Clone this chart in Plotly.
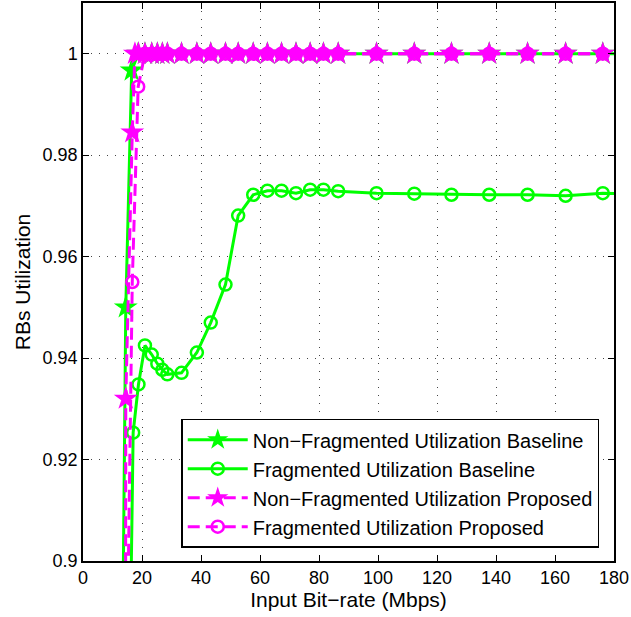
import plotly.graph_objects as go

# ---------------- data ----------------
x_base_nf = [13.0, 14.5, 16.5, 18.7, 21.0, 23.3, 25.2, 26.9, 28.6, 33.4, 38.6, 43.3, 48.3, 52.6,
             57.7, 62.5, 67.3, 72.2, 77.0, 81.5, 86.5, 99.5, 112.3, 124.9, 137.7, 150.7, 163.6, 176.2, 189.0]
y_base_nf = [0.856, 0.950, 0.9967] + [1.0] * 26

x_base_f = [15.2, 17.0, 18.8, 21.0, 23.3, 25.2, 26.9, 28.6, 33.4, 38.6, 43.3, 48.3, 52.6, 57.7,
            62.5, 67.3, 72.2, 77.0, 81.5, 86.5, 99.5, 112.3, 124.9, 137.7, 150.7, 163.6, 176.2, 189.0]
y_base_f = [0.850, 0.9253, 0.9348, 0.9425, 0.9407, 0.9389, 0.9377, 0.9368, 0.9371, 0.9411, 0.9470,
            0.9545, 0.9681, 0.9722, 0.9730, 0.9730, 0.9725, 0.9732, 0.9732, 0.9729, 0.9725, 0.9724,
            0.9722, 0.9722, 0.9722, 0.9720, 0.9725, 0.9724]

x_prop_nf = [14.3, 14.5, 16.7, 17.6, 18.8, 21.0, 23.3, 25.2, 26.9, 28.6, 33.4, 38.6, 43.3, 48.3, 52.6,
             57.7, 62.5, 67.3, 72.2, 77.0, 81.5, 86.5, 99.5, 112.3, 124.9, 137.7, 150.7, 163.6, 176.2, 189.0]
y_prop_nf = [0.80, 0.932, 0.9845] + [1.0] * 27

x_prop_f = [14.5, 16.7, 18.7, 21.0, 23.3, 25.2, 26.9, 28.6, 33.4, 38.6, 43.3, 48.3, 52.6, 57.7,
            62.5, 67.3, 72.2, 77.0, 81.5, 86.5, 99.5, 112.3, 124.9, 137.7, 150.7, 163.6, 176.2, 189.0]
y_prop_f = [0.862, 0.955, 0.9935] + [1.0] * 25

names = ["Non\u2212Fragmented Utilization Baseline",
         "Fragmented Utilization Baseline",
         "Non\u2212Fragmented Utilization Proposed",
         "Fragmented Utilization Proposed"]

x_ticks = [0, 20, 40, 60, 80, 100, 120, 140, 160, 180]
y_ticks = [0.9, 0.92, 0.94, 0.96, 0.98, 1.0]
y_tick_text = ["0.9", "0.92", "0.94", "0.96", "0.98", "1"]

GREEN = "#00FF00"
MAGENTA = "#FF00FF"
FONT = "Liberation Sans, Arial, Helvetica, sans-serif"

fig = go.Figure()

fig.add_trace(go.Scatter(
    x=x_base_nf, y=y_base_nf, mode="lines+markers", name=names[0], legendgroup="a",
    line=dict(color=GREEN, width=3),
    marker=dict(symbol="star", size=18, color=GREEN, line=dict(width=0))))
fig.add_trace(go.Scatter(
    x=x_base_f, y=y_base_f, mode="lines+markers", name=names[1], legendgroup="b",
    line=dict(color=GREEN, width=3),
    marker=dict(symbol="circle-open", size=12, color=GREEN, line=dict(width=2.5, color=GREEN))))
fig.add_trace(go.Scatter(
    x=x_prop_f, y=y_prop_f, mode="lines+markers", name=names[3], legendgroup="d",
    line=dict(color=MAGENTA, width=3, dash="12px,6px"),
    marker=dict(symbol="circle-open", size=12, color=MAGENTA, line=dict(width=2.5, color=MAGENTA)),
    showlegend=False))
fig.add_trace(go.Scatter(
    x=x_prop_nf, y=y_prop_nf, mode="lines+markers", name=names[2], legendgroup="c",
    line=dict(color=MAGENTA, width=3, dash="12px,6px"),
    marker=dict(symbol="star", size=18, color=MAGENTA, line=dict(width=0))))
# legend-only entry for the proposed fragmented series (keeps legend order)
fig.add_trace(go.Scatter(
    x=[None], y=[None], mode="lines+markers", name=names[3], legendgroup="d",
    line=dict(color=MAGENTA, width=3, dash="12px,6px"),
    marker=dict(symbol="circle-open", size=12, color=MAGENTA, line=dict(width=2.5, color=MAGENTA)),
    hoverinfo="skip"))

axis_common = dict(
    showline=True, linecolor="black", linewidth=1.5, mirror="ticks",
    ticks="inside", ticklen=6, tickcolor="black", tickwidth=1,
    showgrid=True, gridcolor="#444444", gridwidth=1, griddash="1px,7px",
    zeroline=False, tickfont=dict(family=FONT, size=18, color="black"),
)

fig.update_xaxes(
    range=[0, 180], tickvals=x_ticks,
    title=dict(text="Input Bit\u2212rate (Mbps)", font=dict(family=FONT, size=21, color="black"), standoff=2),
    **axis_common)
fig.update_yaxes(
    range=[0.9, 1.01], tickvals=y_ticks, ticktext=y_tick_text,
    title=dict(text="RBs Utilization", font=dict(family=FONT, size=21, color="black"), standoff=6),
    **axis_common)

fig.update_layout(
    width=631, height=617,
    margin=dict(l=83, r=17, t=1, b=56),
    paper_bgcolor="white", plot_bgcolor="white",
    font=dict(family=FONT, color="black"),
    showlegend=True,
    legend=dict(
        x=0.185, y=0.255, xanchor="left", yanchor="top",
        bgcolor="white", bordercolor="black", borderwidth=1.5,
        font=dict(family=FONT, size=20, color="black"),
        itemwidth=60, tracegroupgap=0, traceorder="normal",
    ),
)

fig.write_html("out.html")
